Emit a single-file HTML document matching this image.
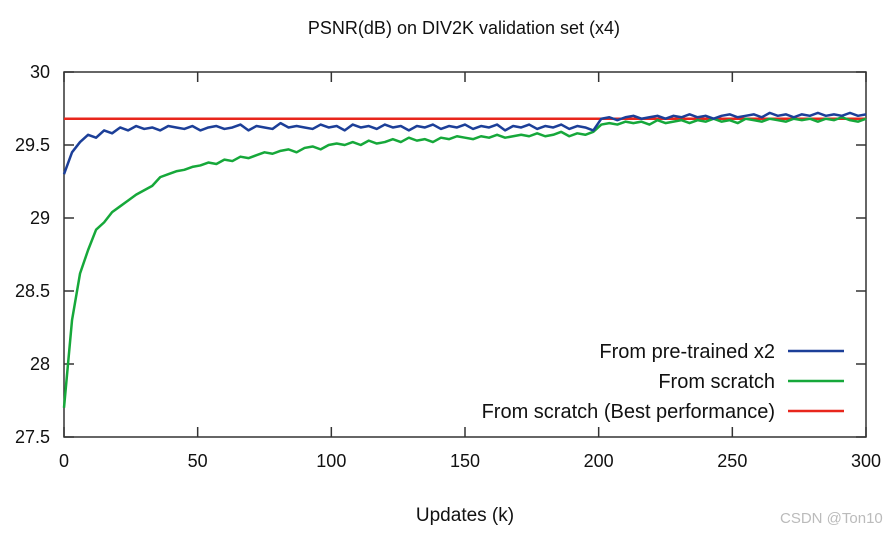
<!DOCTYPE html>
<html><head><meta charset="utf-8"><style>
body{margin:0;background:#fff;width:891px;height:533px;overflow:hidden}
text{font-family:"Liberation Sans","DejaVu Sans",sans-serif;fill:#111}
</style></head><body>
<svg id="chart" width="891" height="533" xmlns="http://www.w3.org/2000/svg">
<text x="464" y="34" font-size="18" text-anchor="middle">PSNR(dB) on DIV2K validation set (x4)</text>
<g id="axes"></g>
<g id="series"></g>
<g id="legend"></g>
<text x="465" y="521" font-size="19" text-anchor="middle">Updates (k)</text>
<text x="780" y="523" font-size="15" style="fill:#bbb">CSDN @Ton10</text>
</svg>
<script>
const xStep = 3;
const blueValues = [29.30,29.45,29.52,29.57,29.55,29.60,29.58,29.62,29.60,29.63,29.61,29.62,29.60,29.63,29.62,29.61,29.63,29.60,29.62,29.63,29.61,29.62,29.64,29.60,29.63,29.62,29.61,29.65,29.62,29.63,29.62,29.61,29.64,29.62,29.63,29.60,29.64,29.62,29.63,29.61,29.64,29.62,29.63,29.60,29.63,29.62,29.64,29.61,29.63,29.62,29.64,29.61,29.63,29.62,29.64,29.60,29.63,29.62,29.64,29.61,29.63,29.62,29.64,29.61,29.63,29.62,29.60,29.68,29.69,29.67,29.69,29.70,29.68,29.69,29.70,29.68,29.70,29.69,29.71,29.69,29.70,29.68,29.70,29.71,29.69,29.70,29.71,29.69,29.72,29.70,29.71,29.69,29.71,29.70,29.72,29.70,29.71,29.70,29.72,29.70,29.71];
const greenValues = [27.70,28.30,28.62,28.78,28.92,28.97,29.04,29.08,29.12,29.16,29.19,29.22,29.28,29.30,29.32,29.33,29.35,29.36,29.38,29.37,29.40,29.39,29.42,29.41,29.43,29.45,29.44,29.46,29.47,29.45,29.48,29.49,29.47,29.50,29.51,29.50,29.52,29.50,29.53,29.51,29.52,29.54,29.52,29.55,29.53,29.54,29.52,29.55,29.54,29.56,29.55,29.54,29.56,29.55,29.57,29.55,29.56,29.57,29.56,29.58,29.56,29.57,29.59,29.56,29.58,29.57,29.59,29.64,29.65,29.64,29.66,29.65,29.66,29.64,29.67,29.65,29.66,29.67,29.65,29.67,29.66,29.68,29.66,29.67,29.65,29.68,29.67,29.66,29.68,29.67,29.66,29.68,29.67,29.68,29.66,29.68,29.67,29.69,29.67,29.66,29.68];
const bestValue = 29.68;
const xTicks = [0,50,100,150,200,250,300];
const yTicks = [27.5,28,28.5,29,29.5,30];
const legendLabels = ["From pre-trained x2","From scratch","From scratch (Best performance)"];

const NS="http://www.w3.org/2000/svg";
const L=64,R=866,T=72,B=437;
const xs=v=>L+(v/300)*(R-L);
const ys=v=>B-(v-27.5)/2.5*(B-T);
function mk(tag,attrs,parent){const e=document.createElementNS(NS,tag);for(const k in attrs)e.setAttribute(k,attrs[k]);parent.appendChild(e);return e;}
const ax=document.getElementById('axes');
const frame=mk('rect',{x:L,y:T,width:R-L,height:B-T,fill:'none',stroke:'#333','stroke-width':1.5},ax);


xTicks.forEach(t=>{
  const x=xs(t);
  const t1=mk('line',{x1:x,x2:x,y1:B,y2:B-10,stroke:'#333','stroke-width':1.5},ax);
  
  
  mk('line',{x1:x,x2:x,y1:T,y2:T+10,stroke:'#333','stroke-width':1.5},ax);
  const lb=mk('text',{x:x,y:B+30,'font-size':18,'text-anchor':'middle'},ax);
  lb.textContent=t;
  
  
});
yTicks.forEach(t=>{
  const y=ys(t);
  const t1=mk('line',{x1:L,x2:L+10,y1:y,y2:y,stroke:'#333','stroke-width':1.5},ax);
  
  
  mk('line',{x1:R-10,x2:R,y1:y,y2:y,stroke:'#333','stroke-width':1.5},ax);
  const lb=mk('text',{x:L-14,y:y+6,'font-size':18,'text-anchor':'end'},ax);
  lb.textContent=String(t);
  
  
});
const sg=document.getElementById('series');
const red=mk('line',{x1:xs(0),x2:xs(300),y1:ys(bestValue),y2:ys(bestValue),stroke:'#e8261c','stroke-width':2.5},sg);


function poly(vals,color,name){
  const p=mk('polyline',{points:vals.map((v,i)=>xs(i*xStep)+','+ys(v)).join(' '),fill:'none',stroke:color,'stroke-width':2.5,'stroke-linejoin':'round'},sg);
  
  
}
poly(greenValues,'#16a83a','from-scratch-line');
poly(blueValues,'#1c3f98','pretrained-x2-line');
const lg=document.getElementById('legend');
const colors=['#1c3f98','#16a83a','#e8261c'];
legendLabels.forEach((s,i)=>{
  const y=351+i*30;
  const t=mk('text',{x:775,y:y+7,'font-size':20,'text-anchor':'end'},lg);
  t.textContent=s;
  
  
  const l=mk('line',{x1:788,x2:844,y1:y,y2:y,stroke:colors[i],'stroke-width':2.5},lg);
  
  
});
</script>
</body></html>
